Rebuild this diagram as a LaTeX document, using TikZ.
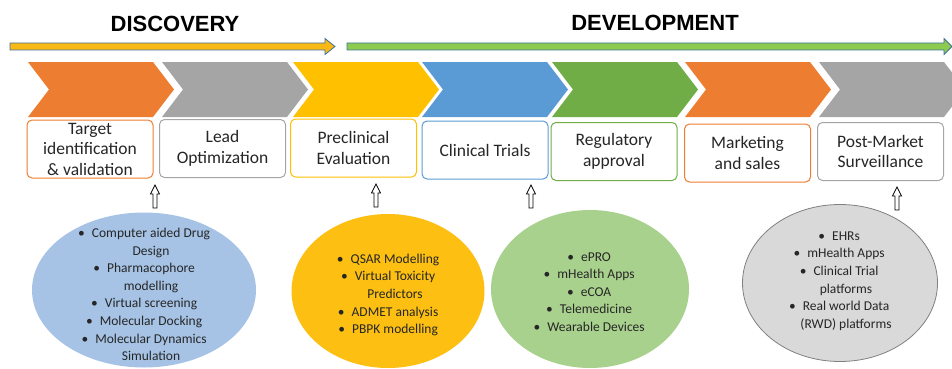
\documentclass[tikz,border=0pt]{standalone}
\usepackage{fontspec}
\setmainfont{Carlito}
\newfontfamily\headfont{Liberation Sans}
\usetikzlibrary{shapes.geometric}

\definecolor{stOrange}{HTML}{ED7D31}
\definecolor{stGray}{HTML}{A5A5A5}
\definecolor{stYellow}{HTML}{FFC000}
\definecolor{stBlue}{HTML}{5B9BD5}
\definecolor{stGreen}{HTML}{70AD47}
\definecolor{arrLine}{HTML}{41719C}
\definecolor{discFill}{HTML}{F9B914}
\definecolor{devFill}{HTML}{8CCB50}
\definecolor{ellBlue}{HTML}{A6C3E6}
\definecolor{ellYellow}{HTML}{FCBF12}
\definecolor{ellGreen}{HTML}{A9D18E}
\definecolor{ellGray}{HTML}{D9D9D9}
\definecolor{txt}{HTML}{262626}

% hanging bullet, so the wrapped lines stay centred on the item text
\newcommand{\itm}{\llap{\textbullet\hspace{7pt}}}

\begin{document}
\begin{tikzpicture}[x=1pt,y=-1pt,
phase/.style={font=\headfont\bfseries\fontsize{22}{24}\selectfont,inner sep=0pt},
stage/.style={draw=#1,fill=white,rounded corners=5pt,line width=1pt,minimum width=126pt,minimum height=58pt,align=center,inner sep=2pt,font=\fontsize{17.5}{20.5}\selectfont,text=txt},
tools/.style={ellipse,fill=#1,inner sep=0pt},
toollist/.style={align=center,font=\fontsize{13.5}{17.6}\selectfont,text=txt},
uparr/.style={draw=black,fill=white,line width=0.7pt,line join=miter}]
\useasboundingbox (0,0) rectangle (952,369);

% phase headings and timeline arrows
\node[phase] (disc) at (175,24) {DISCOVERY};
\node[phase] (dev) at (655,23) {DEVELOPMENT};
\filldraw[fill=discFill,draw=arrLine,line width=0.8pt]
   (10,43) -- (325,43) -- (325,38.5) -- (335,46.5) -- (325,54.5) -- (325,50) -- (10,50) -- cycle;
\filldraw[fill=devFill,draw=arrLine,line width=0.8pt]
   (347,43) -- (944,43) -- (944,38.5) -- (952,46.5) -- (944,54.5) -- (944,50) -- (347,50) -- cycle;

% chevrons
\foreach \x/\col in %
{28/stOrange,162/stGray,293/stYellow,422/stBlue,552/stGreen,685/stOrange,819/stGray} {
   \fill[\col] (\x,62) -- ++(125,0) -- ++(21,27.5) -- ++(-21,27.5) -- ++(-125,0) -- ++(21,-27.5) -- cycle;
}

% stage boxes
\foreach \i/\x/\y/\col/\txt in %
{1/90/149/stOrange/{Target\\identification\\\&~validation},
 2/222.5/148.5/stGray/{Lead\\Optimization},
 3/353.5/148/stYellow/{Preclinical\\Evaluation},
 4/485/150/stBlue/{Clinical Trials},
 5/614/151.5/stGreen/{Regulatory\\approval},
 6/747.5/153/stOrange/{Marketing\\and sales},
 7/880.5/151.5/stGray/{Post-Market\\Surveillance}} {
   \node[stage=\col] (stage\i) at (\x,\y) {\txt};
}

% hollow up arrows
\foreach \x/\y in {155/208,376/207,531/208,897/210} {
   \draw[uparr] (\x-2,\y) -- (\x-2,\y-14) -- (\x-4.5,\y-14) -- (\x,\y-23)
      -- (\x+4.5,\y-14) -- (\x+2,\y-14) -- (\x+2,\y) -- cycle;
}

% tool ellipses
\node[tools=ellBlue,minimum width=224pt,minimum height=155pt] (ell1) at (144,290) {};
\node[tools=ellYellow,minimum width=193pt,minimum height=154pt] (ell2) at (388,291) {};
\node[tools=ellGreen,minimum width=198pt,minimum height=158pt] (ell3) at (590,289) {};
\node[tools=ellGray,draw=black!50,line width=0.8pt,minimum width=195pt,minimum height=157pt] (ell4) at (840,283) {};

\node[toollist] (list1) at (151,294.5) {\itm Computer aided Drug\\Design\\\itm Pharmacophore\\modelling\\
   \itm Virtual screening\\\itm Molecular Docking\\\itm Molecular Dynamics\\Simulation};
\node[toollist] (list2) at (395,295) {\itm QSAR Modelling\\\itm Virtual Toxicity\\Predictors\\
   \itm ADMET analysis\\\itm PBPK modelling};
\node[toollist] (list3) at (596,292) {\itm ePRO\\\itm mHealth Apps\\\itm eCOA\\\itm Telemedicine\\\itm Wearable Devices};
\node[toollist] (list4) at (846,281) {\itm EHRs\\\itm mHealth Apps\\\itm Clinical Trial\\platforms\\
   \itm Real world Data\\(RWD) platforms};
\end{tikzpicture}
\end{document}
